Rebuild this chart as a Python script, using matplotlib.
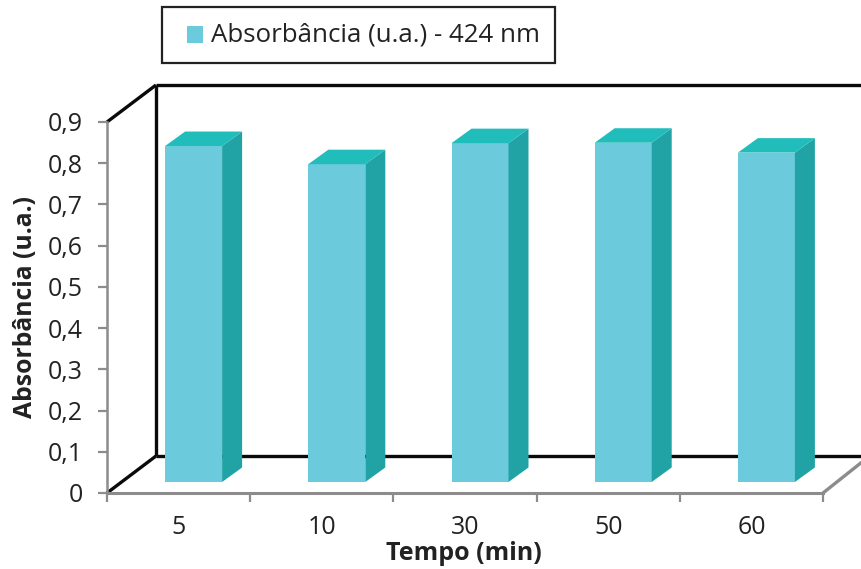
import matplotlib
matplotlib.use("Agg")
import matplotlib.pyplot as plt
from matplotlib.patches import Polygon, Patch, Rectangle
from matplotlib.legend_handler import HandlerPatch

categories = ["5", "10", "30", "50", "60"]
values = [0.815, 0.771, 0.822, 0.823, 0.799]
yticks = [0, 0.1, 0.2, 0.3, 0.4, 0.5, 0.6, 0.7, 0.8, 0.9]
ylabels = ["0", "0,1", "0,2", "0,3", "0,4", "0,5", "0,6", "0,7", "0,8", "0,9"]

W, H = 862, 569
plt.rcParams["font.family"] = ["Open Sans", "DejaVu Sans"]
fig = plt.figure(figsize=(W / 100, H / 100), dpi=100)
ax = fig.add_axes([107 / W, 1 - 493 / H, 716 / W, 371 / H])
ax.set_xlim(0, 5)
ax.set_ylim(0, 0.9)
ax.patch.set_visible(False)

ux = 5 / 716      # data per pixel, x
uy = 0.9 / 371    # data per pixel, y

# walls
wx, wy = 49 * ux, 37 * uy
xr = (862 - 107) * ux
black = "#0a0a0a"
lk = dict(color=black, lw=2.4, clip_on=False, solid_capstyle="butt", zorder=1)
ax.plot([0, wx], [0.9, 0.9 + wy], **lk)
ax.plot([0, wx], [0, wy], **lk)
ax.plot([wx, wx], [wy, 0.9 + wy], **lk)
ax.plot([wx, xr], [0.9 + wy, 0.9 + wy], **lk)
ax.plot([wx, xr], [wy, wy], **lk)
ax.plot([5, 5 + 39 * ux], [0, 31 * uy], color="#8c8c8c", lw=2.4, clip_on=False, zorder=1)

# bars
front, side, top = "#6BCBDC", "#21A3A5", "#20BDBB"
bw = 57 * ux
ox, oy = 15 * ux, 11 * uy
dx, dy = 20 * ux, 14.5 * uy
for i, v in enumerate(values):
    c = i + 0.5 + ox
    l, r = c - bw / 2, c + bw / 2
    b, t = oy, oy + v
    ax.bar(c, v, width=bw, bottom=oy, color=front, zorder=3, linewidth=0)
    ax.add_patch(Polygon([(r, b), (r + dx, b + dy), (r + dx, t + dy), (r, t)],
                         closed=True, fc=side, ec="none", zorder=3, clip_on=False))
    ax.add_patch(Polygon([(l, t), (l + dx, t + dy), (r + dx, t + dy), (r, t)],
                         closed=True, fc=top, ec="none", zorder=3, clip_on=False))

# axes
for s in ("top", "right"):
    ax.spines[s].set_visible(False)
for s in ("left", "bottom"):
    ax.spines[s].set_color("#8c8c8c")
    ax.spines[s].set_linewidth(2.2)
ax.spines["left"].set_linewidth(1.8)
ax.set_yticks(yticks, ylabels)
ax.tick_params(axis="y", length=6.5, width=1.6, color="#8c8c8c", labelsize=18,
               labelcolor="#222222", pad=11)
ax.set_xticks(range(6), [""] * 6)
ax.tick_params(axis="x", which="major", length=6.5, width=1.6, color="#8c8c8c")
ax.set_xticks([i + 0.5 for i in range(5)], categories, minor=True)
ax.tick_params(axis="x", which="minor", length=0, labelsize=18, labelcolor="#222222", pad=16)

fig.text(26 / W, 1 - 307 / H, "Absorbância (u.a.)", rotation=90, ha="center", va="center",
         fontsize=17.8, fontweight="bold", color="#222222")
fig.text(464 / W, 1 - 553 / H, "Tempo (min)", ha="center", va="center",
         fontsize=18, fontweight="bold", color="#222222")


def swatch(legend, orig_handle, xdescent, ydescent, width, height, fontsize):
    side_pt = 12.0
    return Rectangle((width - side_pt + 0.3, (height - side_pt) / 2 - 2.0), side_pt, side_pt)


leg = fig.legend(handles=[Patch(fc=front, ec="none", label="Absorbância (u.a.) - 424 nm")],
                 loc="center", bbox_to_anchor=(358.5 / W, 1 - 35 / H), fancybox=False,
                 edgecolor="#222222", framealpha=1, fontsize=18.6, labelcolor="#222222",
                 handlelength=1.0, handleheight=0.75, handletextpad=0.3,
                 borderpad=0.6, borderaxespad=0,
                 handler_map={Patch: HandlerPatch(patch_func=swatch)})
leg.get_frame().set_linewidth(1.6)

fig.savefig("out.png", dpi=100)
